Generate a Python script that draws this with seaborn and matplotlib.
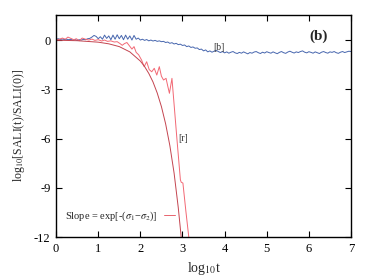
import numpy as np
import pandas as pd
import matplotlib
matplotlib.use("Agg")
import matplotlib.pyplot as plt
import seaborn as sns

# blue orbit [b], sampled every 0.05 in log10 t from 0 to 7
blue_sali = [
    0.05, 0.08, 0.04, 0.06, 0.03, 0.05, 0.02, 0.04, 0.00, 0.03,
    -0.02, 0.02, 0.00, 0.04, 0.02, 0.08, 0.10, 0.18, 0.28, 0.22,
    0.08, 0.20, 0.05, 0.30, 0.10, 0.25, 0.02, 0.30, 0.05, 0.32,
    0.08, 0.28, 0.02, 0.30, 0.05, 0.25, 0.00, 0.28, 0.05, 0.12,
    0.00, 0.05, -0.02, 0.03, -0.05, 0.00, -0.06, -0.02, -0.08, -0.05,
    -0.10, -0.08, -0.15, -0.12, -0.20, -0.16, -0.24, -0.20, -0.28, -0.25,
    -0.33, -0.30, -0.40, -0.36, -0.45, -0.42, -0.50, -0.48, -0.58, -0.55,
    -0.66, -0.60, -0.72, -0.66, -0.74, -0.68, -0.62, -0.70, -0.76, -0.70,
    -0.78, -0.72, -0.80, -0.74, -0.70, -0.78, -0.82, -0.75, -0.80, -0.72,
    -0.78, -0.84, -0.76, -0.80, -0.73, -0.70, -0.77, -0.82, -0.74, -0.79,
    -0.71, -0.76, -0.80, -0.72, -0.78, -0.83, -0.75, -0.70, -0.77, -0.81,
    -0.73, -0.68, -0.74, -0.79, -0.72, -0.76, -0.70, -0.66, -0.74, -0.78,
    -0.71, -0.75, -0.80, -0.72, -0.77, -0.82, -0.74, -0.70, -0.76, -0.80,
    -0.72, -0.75, -0.70, -0.77, -0.81, -0.74, -0.70, -0.76, -0.72, -0.68,
    -0.70,
]
blue_t = np.linspace(0, 7, len(blue_sali))

# red orbit [r]
red_t = [0.00, 0.08, 0.15, 0.22, 0.28, 0.35, 0.42, 0.48, 0.55, 0.62,
         0.70, 0.78, 0.85, 0.92, 1.00, 1.08, 1.15, 1.22, 1.30, 1.38,
         1.45, 1.52, 1.57, 1.62, 1.68, 1.74, 1.80, 1.85, 1.90, 1.96,
         2.03, 2.09, 2.15, 2.21, 2.27, 2.33, 2.39, 2.45, 2.50, 2.55,
         2.61, 2.65, 2.69, 2.75, 2.81, 2.87, 2.95, 2.97, 3.01, 3.08, 3.15]
red_sali = [0.00, 0.05, 0.12, 0.05, 0.18, 0.10, 0.02, 0.08, -0.04, 0.12,
            0.05, 0.00, 0.06, -0.02, 0.02, -0.06, 0.00, -0.08, -0.05, -0.12,
            -0.10, -0.22, -0.32, -0.22, -0.15, -0.35, -0.55, -0.40, -0.75, -0.90,
            -1.22, -1.62, -1.32, -1.80, -1.93, -1.72, -2.13, -1.62, -2.20, -2.43,
            -2.33, -2.80, -3.24, -2.33, -4.20, -6.08, -8.50, -8.65, -8.70, -10.40, -12.00]

# slope curve exp[-(s1-s2)]
fit_t = [0.0, 0.5, 1.0, 1.25, 1.5, 1.75, 2.0, 2.1, 2.2, 2.3,
         2.4, 2.5, 2.6, 2.7, 2.8, 2.9, 2.97]
fit_sali = [-0.01, -0.04, -0.13, -0.23, -0.40, -0.72, -1.28, -1.61, -2.03, -2.55,
            -3.22, -4.05, -5.10, -6.42, -8.08, -10.20, -12.00]

xticks = [0, 1, 2, 3, 4, 5, 6, 7]
yticks = [0, -3, -6, -9, -12]

sns.set_style("ticks")
plt.rcParams['font.family'] = ['Liberation Serif', 'DejaVu Serif']
plt.rcParams['mathtext.fontset'] = 'stix'
plt.rcParams['axes.unicode_minus'] = False

fig = plt.figure(figsize=(3.74, 2.8), dpi=100)
ax = fig.add_axes([0.15, 0.1525, 0.7885, 0.7955])

sns.lineplot(x=blue_t, y=blue_sali, ax=ax, color="#4766ae", linewidth=0.7,
             estimator=None, sort=False)
sns.lineplot(x=red_t, y=red_sali, ax=ax, color="#f26874", linewidth=0.7,
             estimator=None, sort=False)
sns.lineplot(x=fit_t, y=fit_sali, ax=ax, color="#c4444f", linewidth=0.7,
             estimator=None, sort=False, label=r"Slope = exp[-($\sigma_1$−$\sigma_2$)]")

ax.set_xlim(0, 7)
ax.set_ylim(-12, 1.55)
ax.set_xticks(xticks)
ax.set_xticklabels([str(v) for v in xticks])
ax.set_yticks(yticks)
ax.set_yticklabels([str(v) for v in yticks])
ax.tick_params(direction="in", top=True, right=True, length=4, width=0.8,
               labelsize=9, pad=4, colors="black")
for s in ax.spines.values():
    s.set_linewidth(1.0)
    s.set_color("black")

ax.set_xlabel(r"log$_{10}$t", fontsize=10, labelpad=4)
ax.set_ylabel(r"log$_{10}$[SALI(t)/SALI(0)]", fontsize=8.5, labelpad=5)

ax.text(3.87, -0.43, "[b]", fontsize=7, ha="center", va="center", color="#333333")
ax.text(3.02, -6.0, "[r]", fontsize=7, ha="center", va="center", color="#333333")
ax.text(6.22, 0.25, "(b)", fontsize=11, fontweight="bold", ha="center", va="center")

leg = ax.legend(loc="center left", bbox_to_anchor=(0.0, 0.095), frameon=False,
                markerfirst=False, handlelength=1.0, handletextpad=0.6, fontsize=7.5)
leg.get_lines()[0].set_color("#e8646e")

fig.savefig("out.png", dpi=100)
